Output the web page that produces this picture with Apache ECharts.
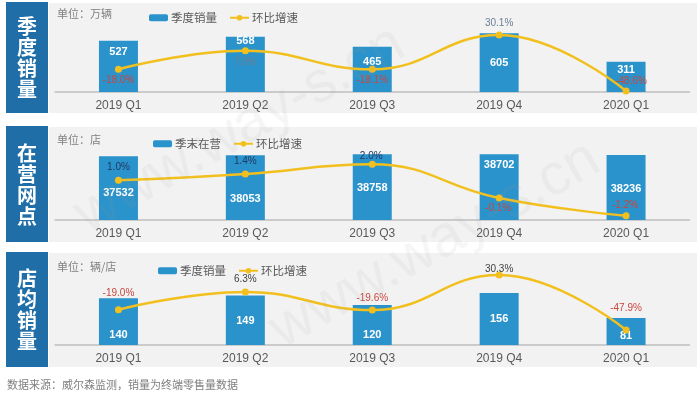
<!DOCTYPE html>
<html>
<head>
<meta charset="utf-8">
<script src="https://cdn.jsdelivr.net/npm/echarts@6/dist/echarts.min.js"></script>
<style>
  html, body { margin: 0; padding: 0; background: #fff; }
  #chart { width: 700px; height: 398px; }
</style>
</head>
<body>
<div id="chart"></div>
<script>
const quarters = ['2019 Q1', '2019 Q2', '2019 Q3', '2019 Q4', '2020 Q1'];
// 季度销量（万辆）
const salesVolume = [527, 568, 465, 605, 311];
const salesGrowth = [-18.0, 7.8, -18.1, 30.1, -48.6];
// 季末在营（店）
const outletCount = [37532, 38053, 38758, 38702, 38236];
const outletGrowth = [1.0, 1.4, 2.0, -0.1, -1.2];
// 店均销量（辆/店）
const perOutlet = [140, 149, 120, 156, 81];
const perOutletGrowth = [-19.0, 6.3, -19.6, 30.3, -47.9];

const FONT = '"Liberation Sans", "Noto Sans CJK SC", sans-serif';
const CJK = '"Noto Sans CJK SC", sans-serif';
const BLUE = '#2b93cb';
const GOLD = '#f2c01e';
const RED = '#c8473f';

// layout of the three panels
const panels = [
  {
    title: '季\n度\n销\n量', unit: '单位：万辆', barName: '季度销量',
    bars: salesVolume, growth: salesGrowth,
    y: 3, h: 110, gridTop: 25, gridH: 67, barMax: 688.6, lineMin: -50.0, lineMax: 44.1,
    legendLeft: 144, legendTop: 7, posColor: '#6a7f95',
    barDy: [11.6, 4.3, 15, 30, 8.3],
    lineOff: [[0, 11], [0, 11.6], [0, 10.7], [0, -11.7], [5, -10]]
  },
  {
    title: '在\n营\n网\n点', unit: '单位：店', barName: '季末在营',
    bars: outletCount, growth: outletGrowth,
    y: 127, h: 115, gridTop: 150, gridH: 70, barMax: 41200, lineMin: -1.47, lineMax: 2.89,
    legendLeft: 148, legendTop: 133, posColor: '#1f3864',
    barDy: [36.6, 43.3, 33.4, 11, 34],
    lineOff: [[0, -13.3], [0, -12.3], [-1, -7.6], [-1, 10], [-1, -10.7]]
  },
  {
    title: '店\n均\n销\n量', unit: '单位：辆/店', barName: '季度销量',
    bars: perOutlet, growth: perOutletGrowth,
    y: 253, h: 114, gridTop: 270, gridH: 75, barMax: 225.2, lineMin: -69.2, lineMax: 37.4,
    legendLeft: 153, legendTop: 260, posColor: '#404040',
    barDy: [36.7, 25.3, 30, 26.3, 18],
    lineOff: [[0, -16.7], [0, -12.4], [0, -12.3], [0, -5.7], [0, -21.7]]
  }
];

const grid = [], xAxis = [], yAxis = [], series = [], legend = [], graphic = [];

panels.forEach((p, i) => {
  grid.push({ left: 55, right: 10.5, top: p.gridTop, height: p.gridH });
  xAxis.push({
    type: 'category', gridIndex: i, data: quarters,
    axisTick: { show: false },
    axisLine: { lineStyle: { color: '#bfbfbf', width: 1.5 } },
    axisLabel: { color: '#595959', fontSize: 12, fontFamily: FONT, margin: 8 }
  });
  yAxis.push({ type: 'value', gridIndex: i, min: 0, max: p.barMax, show: false, splitLine: { show: false } });
  yAxis.push({ type: 'value', gridIndex: i, min: p.lineMin, max: p.lineMax, show: false, splitLine: { show: false } });

  series.push({
    name: p.barName, type: 'bar', xAxisIndex: i, yAxisIndex: i * 2,
    barWidth: 39,
    itemStyle: { color: BLUE },
    label: {
      show: true, position: 'insideTop', distance: 0, color: '#fff',
      fontWeight: 'bold', fontSize: 11, lineHeight: 14, fontFamily: FONT
    },
    data: p.bars.map((v, k) => ({ value: v, label: { offset: [0, p.barDy[k] - 7] } }))
  });
  series.push({
    name: '环比增速', type: 'line', xAxisIndex: i, yAxisIndex: i * 2 + 1,
    smooth: 0.45, symbol: 'circle', symbolSize: 7,
    itemStyle: { color: GOLD },
    lineStyle: { color: GOLD, width: 2.5 },
    label: {
      show: true, position: 'inside', fontSize: 10, fontFamily: FONT,
      formatter: (d) => d.value.toFixed(1) + '%'
    },
    data: p.growth.map((v, k) => ({
      value: v,
      label: { offset: p.lineOff[k], color: v < 0 ? RED : p.posColor }
    }))
  });

  legend.push({
    data: [p.barName, '环比增速'], left: p.legendLeft, top: p.legendTop,
    itemWidth: 19, itemHeight: 7, itemGap: 12, selectedMode: false,
    textStyle: { fontSize: 11.5, color: '#595959', fontFamily: CJK, padding: [0, 0, 0, -2] }
  });

  graphic.push({
    type: 'rect', shape: { x: 49, y: p.y, width: 648, height: p.h },
    style: { fill: '#f2f2f2' }, z: -10, silent: true
  });
  graphic.push({
    type: 'rect', shape: { x: 6, y: p.y - 1, width: 42, height: p.h + 1 },
    style: { fill: '#1f6ea8' }, z: -5, silent: true
  });
  graphic.push({
    type: 'text', x: 27, y: p.y + p.h / 2,
    style: {
      text: p.title, fill: '#fff', font: 'bold 20px ' + CJK, lineHeight: 21,
      align: 'center', verticalAlign: 'middle'
    }, silent: true
  });
  graphic.push({
    type: 'text', x: 57, y: p.legendTop + 7,
    style: { text: p.unit, fill: '#808080', font: '11px ' + CJK, verticalAlign: 'middle' },
    silent: true
  });
});

graphic.push({
  type: 'text', x: 7, y: 385,
  style: { text: '数据来源：威尔森监测，销量为终端零售量数据', fill: '#7f7f7f', font: '11px ' + CJK, verticalAlign: 'middle' },
  silent: true
});

// watermark
[[240, 130], [435, 245]].forEach(([x, y]) => {
  graphic.push({
    type: 'text', x: x, y: y, rotation: 0.51, z: 100, silent: true,
    style: {
      text: 'www.way-s.cn', fill: 'rgba(150,150,150,0.09)', font: '58px ' + FONT,
      align: 'center', verticalAlign: 'middle'
    }
  });
});

const chart = echarts.init(document.getElementById('chart'));
chart.setOption({
  animation: false,
  backgroundColor: '#fff',
  textStyle: { fontFamily: FONT },
  grid, xAxis, yAxis, series, legend, graphic
});
</script>
</body>
</html>
